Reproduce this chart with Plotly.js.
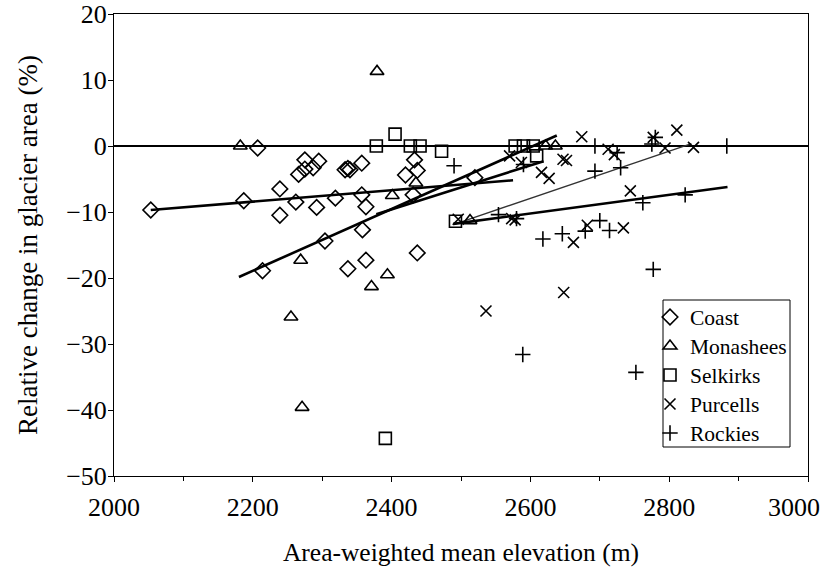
<!DOCTYPE html>
<html>
<head>
<meta charset="utf-8">
<script src="https://cdn.plot.ly/plotly-3.0.1.min.js"></script>
<style>html,body{margin:0;padding:0;background:#fff;}#chart{width:830px;height:575px;}</style>
</head>
<body>
<div id="chart"></div>
<script>
// ---- data ----
const coastX = [2053, 2207, 2187, 2239, 2239, 2262, 2275, 2266, 2275, 2287, 2295, 2292, 2319, 2333, 2337, 2340, 2357, 2214, 2304, 2337, 2357, 2363, 2358, 2363, 2433, 2437, 2420, 2431, 2437, 2520];
const coastY = [-9.7, -0.3, -8.3, -6.5, -10.5, -8.5, -2.1, -4.3, -3.5, -3.3, -2.3, -9.3, -7.9, -3.6, -3.4, -3.6, -2.6, -18.9, -14.4, -18.6, -7.4, -9.2, -12.7, -17.3, -2.1, -3.7, -4.4, -7.4, -16.2, -4.8];

const monasheesX = [2182, 2379, 2269, 2435, 2401, 2394, 2371, 2255, 2271, 2513, 2622, 2636];
const monasheesY = [0, 11.3, -17.3, -5.6, -7.5, -19.5, -21.3, -25.9, -39.6, -11.3, 0, 0];

const selkirksX = [2378, 2405, 2427, 2441, 2472, 2391, 2492, 2578, 2590, 2604, 2609];
const selkirksY = [0, 1.8, 0, 0, -0.8, -44.3, -11.4, 0, 0, 0, -1.5];

const purcellsX = [2496, 2573, 2578, 2536, 2674, 2712, 2721, 2777, 2570, 2587, 2647, 2652, 2616, 2627, 2744, 2662, 2682, 2734, 2648, 2811, 2794, 2835];
const purcellsY = [-11.1, -11.0, -11.2, -25.0, 1.4, -0.5, -1.3, 1.3, -1.5, -2.5, -2.0, -2.2, -4.0, -4.9, -6.8, -14.6, -12.0, -12.4, -22.2, 2.4, -0.3, -0.2];

const rockiesX = [2490, 2554, 2589, 2693, 2725, 2780, 2775, 2590, 2693, 2730, 2762, 2618, 2646, 2679, 2700, 2714, 2777, 2883, 2823, 2752, 2580];
const rockiesY = [-3.0, -10.4, -31.6, 0, -1.0, 1.3, 0.3, -2.8, -3.8, -3.3, -8.6, -14.1, -13.3, -12.9, -11.3, -12.8, -18.7, 0, -7.4, -34.3, -11.0];

// fitted trend lines (end points)
const coastFitX = [2053, 2575], coastFitY = [-9.7, -5.2];
const monasheesFitX = [2180, 2638], monasheesFitY = [-19.85, 1.6];
const selkirksFitX = [2378, 2619], selkirksFitY = [-10.35, -2.3];
const purcellsFitX = [2489, 2832], purcellsFitY = [-11.9, 0.35];
const rockiesFitX = [2489, 2884], rockiesFitY = [-11.8, -6.2];

const seriesNames = ['Coast', 'Monashees', 'Selkirks', 'Purcells', 'Rockies'];
const xTickVals = [2000, 2200, 2400, 2600, 2800, 3000];
const xTickText = ['2000', '2200', '2400', '2600', '2800', ''];   // last label drawn as an annotation (kept inside the page)
const lastXTickLabel = '3000';
const yTickVals = [-50, -40, -30, -20, -10, 0, 10, 20];

// ---- chart ----
const FONT = "Liberation Serif, Times New Roman, serif";
const mk = (sym, size) => ({symbol: sym, size: size, color: 'black', line: {color: 'black', width: 1.6}});

function fit(x, y, w, c) {
  return {x: x, y: y, mode: 'lines', type: 'scatter', showlegend: false, hoverinfo: 'skip',
          line: {color: c, width: w}};
}

const legendRowsPx = [317, 346, 375, 404, 433];   // legend row centres (px)
const legendIds = ['legend', 'legend2', 'legend3', 'legend4', 'legend5'];

const traces = [
  fit(coastFitX, coastFitY, 2.6, 'black'),
  fit(monasheesFitX, monasheesFitY, 2.6, 'black'),
  fit(selkirksFitX, selkirksFitY, 2.6, 'black'),
  fit(purcellsFitX, purcellsFitY, 1.3, '#333'),
  fit(rockiesFitX, rockiesFitY, 2.6, 'black'),
  {x: coastX, y: coastY, name: seriesNames[0], legend: legendIds[0], mode: 'markers', type: 'scatter', marker: mk('diamond-open', 12)},
  {x: monasheesX, y: monasheesY, name: seriesNames[1], legend: legendIds[1], mode: 'markers', type: 'scatter', marker: mk('triangle-up-open', 12)},
  {x: selkirksX, y: selkirksY, name: seriesNames[2], legend: legendIds[2], mode: 'markers', type: 'scatter', marker: mk('square-open', 12)},
  {x: purcellsX, y: purcellsY, name: seriesNames[3], legend: legendIds[3], mode: 'markers', type: 'scatter', marker: mk('x-thin-open', 11)},
  {x: rockiesX, y: rockiesY, name: seriesNames[4], legend: legendIds[4], mode: 'markers', type: 'scatter', marker: mk('cross-thin-open', 11)}
];

const PLOT_T = 14, PLOT_B = 476;
const layout = {
  width: 830, height: 575,
  margin: {l: 114, r: 22, t: PLOT_T, b: 575 - PLOT_B},
  paper_bgcolor: 'white', plot_bgcolor: 'white',
  font: {family: FONT, color: 'black', size: 26},
  showlegend: true,
  shapes: [{type: 'rect', xref: 'paper', yref: 'paper', x0: (663 - 114) / 694, x1: (790 - 114) / 694,
            y0: (PLOT_B - 447) / 462, y1: (PLOT_B - 300) / 462,
            line: {color: 'black', width: 1}, fillcolor: 'white', layer: 'above'}],
  annotations: [{x: xTickVals[5], xref: 'x', y: 0, yref: 'paper', yanchor: 'top', xanchor: 'right',
                 xshift: 14, yshift: -15, showarrow: false, text: lastXTickLabel,
                 font: {family: FONT, size: 26, color: 'black'}}],
  xaxis: {range: [2000, 3000], tickvals: xTickVals, ticktext: xTickText, ticks: 'outside', ticklen: 5, tickcolor: 'black',
          showgrid: false, zeroline: false, showline: true, linecolor: 'black', linewidth: 1, mirror: true,
          minor: {dtick: 100, ticks: 'outside', ticklen: 4, tickcolor: 'black', showgrid: false},
          tickfont: {family: FONT, size: 26}, ticklabelstandoff: 3,
          title: {text: 'Area-weighted mean elevation (m)', font: {family: FONT, size: 25.5}, standoff: 21}},
  yaxis: {range: [-50, 20], tickvals: yTickVals, ticks: 'outside', ticklen: 5, tickcolor: 'black',
          showgrid: false, zeroline: true, zerolinecolor: 'black', zerolinewidth: 1.5,
          showline: true, linecolor: 'black', linewidth: 1, mirror: true,
          tickfont: {family: FONT, size: 26}, ticklabelstandoff: -4,
          title: {text: 'Relative change in glacier area (%)', font: {family: FONT, size: 27}, standoff: 20}},
  hovermode: false
};
legendIds.forEach((id, i) => {
  layout[id] = {x: (650 - 114) / 694, y: (PLOT_B - legendRowsPx[i]) / 462, xanchor: 'left', yanchor: 'middle',
                borderwidth: 0, bgcolor: 'rgba(0,0,0,0)', itemwidth: 30,
                font: {family: FONT, size: 21.5, color: 'black'}};
});

Plotly.newPlot('chart', traces, layout, {staticPlot: true});
</script>
</body>
</html>
